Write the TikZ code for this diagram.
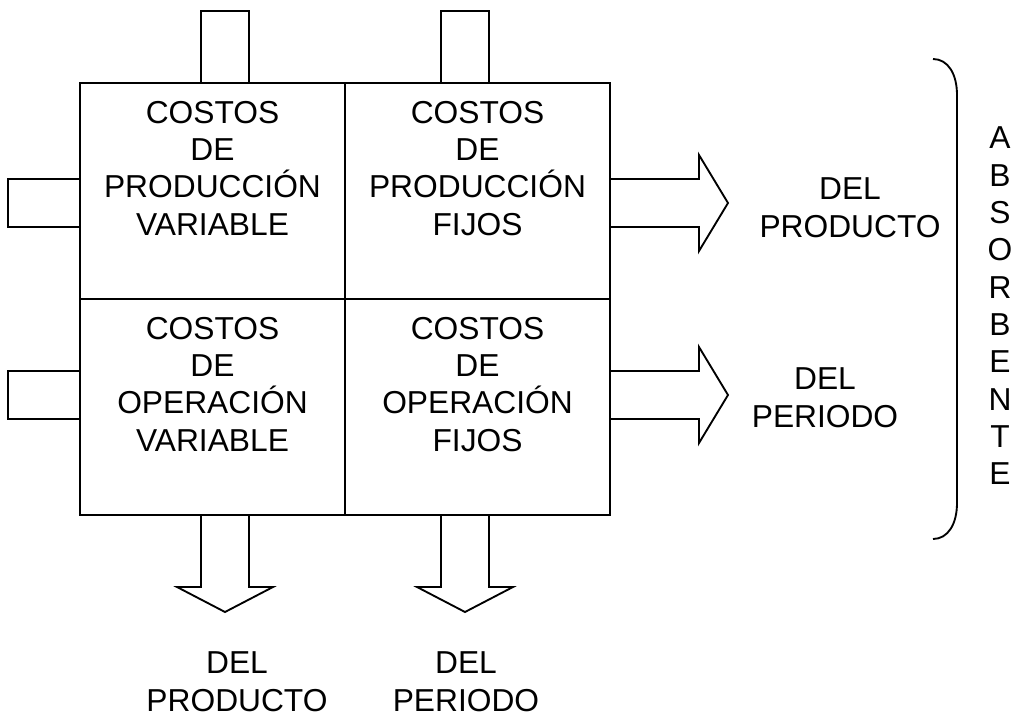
\documentclass[tikz,border=0pt]{standalone}
\usepackage{fontspec}
\setmainfont{Liberation Sans}

\begin{document}
\begin{tikzpicture}[x=0.75pt,y=-0.75pt,line width=1.4pt,line join=miter,
  cell/.style={draw,minimum width=198.75pt,minimum height=162pt,inner sep=0pt},
  lbl/.style={align=center,inner sep=0pt,anchor=north,font=\fontsize{23.8}{28}\selectfont}]
  \useasboundingbox (0,0) rectangle (1014,717);

  % the four cells
  \node[cell] (pv) at (212.5,191) {};
  \node[cell] (pf) at (477.5,191) {};
  \node[cell] (ov) at (212.5,407) {};
  \node[cell] (of) at (477.5,407) {};

  \node[lbl] (pvtext) at (212.5,100) {COSTOS\\DE\\PRODUCCIÓN\\VARIABLE};
  \node[lbl] (pftext) at (477.5,100) {COSTOS\\DE\\PRODUCCIÓN\\FIJOS};
  \node[lbl] (ovtext) at (212.5,316) {COSTOS\\DE\\OPERACIÓN\\VARIABLE};
  \node[lbl] (oftext) at (477.5,316) {COSTOS\\DE\\OPERACIÓN\\FIJOS};

  % stubs on top and on the left
  \draw (201,83) -- (201,11) -- (249,11) -- (249,83);
  \draw (441,83) -- (441,11) -- (489,11) -- (489,83);
  \draw (80,179) -- (8,179) -- (8,227) -- (80,227);
  \draw (80,371) -- (8,371) -- (8,419) -- (80,419);

  % arrows to the right
  \draw (610,179) -- (699,179) -- (699,155) -- (728,203) -- (699,251) -- (699,227) -- (610,227);
  \draw (610,371) -- (699,371) -- (699,347) -- (728,395) -- (699,443) -- (699,419) -- (610,419);

  % arrows down
  \draw (201,515) -- (201,587) -- (177,587) -- (225,612) -- (273,587) -- (249,587) -- (249,515);
  \draw (441,515) -- (441,587) -- (417,587) -- (465,612) -- (513,587) -- (489,587) -- (489,515);

  \node[lbl] (prodright) at (850,177) {DEL\\PRODUCTO};
  \node[lbl] (perright) at (825,367) {DEL\\PERIODO};
  \node[lbl] (prodbelow) at (237,651) {DEL\\PRODUCTO};
  \node[lbl] (perbelow) at (466,651) {DEL\\PERIODO};

  % brace and vertical word
  \draw (933,59) .. controls (948,59) and (957,74) .. (957,95) -- (957,503) .. controls (957,524) and (948,539) .. (933,539);
  \node[lbl] (absorb) at (1000,126) {A\\B\\S\\O\\R\\B\\E\\N\\T\\E};
\end{tikzpicture}
\end{document}
